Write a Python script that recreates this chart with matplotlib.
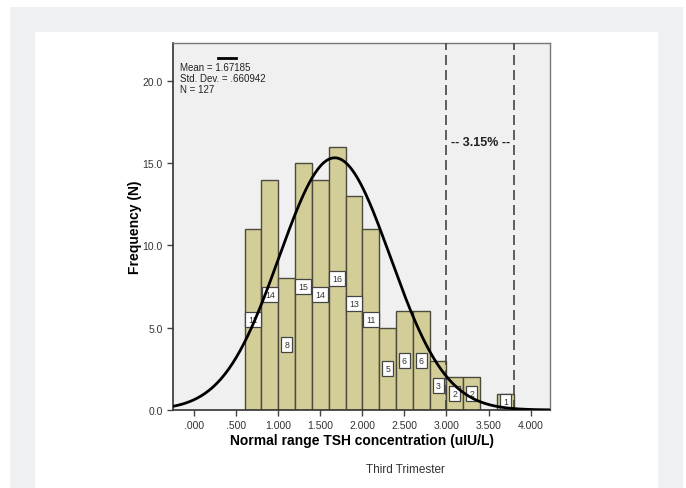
import numpy as np
import matplotlib
matplotlib.use("Agg")
import matplotlib.pyplot as plt
from matplotlib.patches import Rectangle

plt.rcParams['font.family'] = ['Liberation Sans', 'DejaVu Sans']

# histogram data (bins of 0.2 starting at 0.6)
bin_edges = [0.6, 0.8, 1.0, 1.2, 1.4, 1.6, 1.8, 2.0, 2.2, 2.4, 2.6, 2.8, 3.0, 3.2, 3.4, 3.6, 3.8]
counts = [11, 14, 8, 15, 14, 16, 13, 11, 5, 6, 6, 3, 2, 2, 0, 1]
mean_val = 1.67185
sd_val = 0.660942
n_val = 127
cut_lines = [3.0, 3.8]
xticks = [0.0, 0.5, 1.0, 1.5, 2.0, 2.5, 3.0, 3.5, 4.0]
xticklabels = ['.000', '.500', '1.000', '1.500', '2.000', '2.500', '3.000', '3.500', '4.000']
yticks = [0.0, 5.0, 10.0, 15.0, 20.0]

fig = plt.figure(figsize=(6.86, 4.89), dpi=100)
fig.patch.set_facecolor('white')

# page background: grey band with white card
fig.patches.append(Rectangle((10/686, 0), 673/686, 1 - 8/489, transform=fig.transFigure,
                             facecolor='#eff0f2', edgecolor='none', zorder=-2))
fig.patches.append(Rectangle((35/686, 0), 623/686, 1 - 33/489, transform=fig.transFigure,
                             facecolor='white', edgecolor='none', zorder=-1))

ax = fig.add_axes([173/686, 1 - 411/489, 377/686, 367/489])
ax.set_facecolor('#f0f0f0')

widths = np.diff(bin_edges)
ax.bar(bin_edges[:-1], counts, width=widths, align='edge', color='#d3ce97',
       edgecolor='#4b4a3c', linewidth=1.0, zorder=2)

# count labels in white boxes at half height
for left, w, c in zip(bin_edges[:-1], widths, counts):
    if c == 0:
        continue
    ax.text(left + w / 2, c / 2, str(c), ha='center', va='center', fontsize=6.3,
            color='#333333', zorder=4,
            bbox=dict(boxstyle='square,pad=0.35', facecolor='white', edgecolor='#444444', linewidth=0.9))

# normal curve
xs = np.linspace(-0.25, 4.23, 400)
bw = 0.2
ys = n_val * bw / (sd_val * np.sqrt(2 * np.pi)) * np.exp(-0.5 * ((xs - mean_val) / sd_val) ** 2)
ax.plot(xs, ys, color='black', linewidth=2.0, zorder=5)

for xv in cut_lines:
    ax.axvline(xv, color='#444444', linewidth=1.2, linestyle=(0, (6, 3)), zorder=3)

ax.text(sum(cut_lines) / 2, 16.3, '-- 3.15% --', ha='center', va='center',
        fontsize=9, fontweight='bold', color='#222222', zorder=5)

ax.set_xlim(-0.25, 4.23)
ax.set_ylim(0, 22.31)
ax.set_xticks(xticks)
ax.set_xticklabels(xticklabels)
ax.set_yticks(yticks)
ax.set_yticklabels([f'{v:.1f}' for v in yticks])
ax.tick_params(axis='both', labelsize=7.5, colors='#444444', length=4, width=1, direction='out')
for lbl in ax.get_xticklabels() + ax.get_yticklabels():
    lbl.set_color('#333333')
for side in ['left', 'bottom']:
    ax.spines[side].set_color('#333333')
    ax.spines[side].set_linewidth(1.2)
for side in ['top', 'right']:
    ax.spines[side].set_color('#777777')
    ax.spines[side].set_linewidth(1.0)

ax.set_xlabel('Normal range TSH concentration (uIU/L)', fontsize=10, fontweight='bold', labelpad=2)
ax.set_ylabel('Frequency (N)', fontsize=10, fontweight='bold', labelpad=0)

# legend block (top-left)
ax.plot([0.285, 0.5], [21.4, 21.4], color='black', linewidth=2.0, zorder=5)
ax.text(-0.17, 20.85, f'Mean = {mean_val:.5f}', fontsize=7, va='center', color='#222222')
ax.text(-0.17, 20.18, 'Std. Dev. = .660942', fontsize=7, va='center', color='#222222')
ax.text(-0.17, 19.51, f'N = {n_val}', fontsize=7, va='center', color='#222222')

fig.text(405/686, 1 - 470/489, 'Third Trimester', ha='center', va='center', fontsize=8.5, color='#333333')

fig.savefig('out.png', dpi=100)
